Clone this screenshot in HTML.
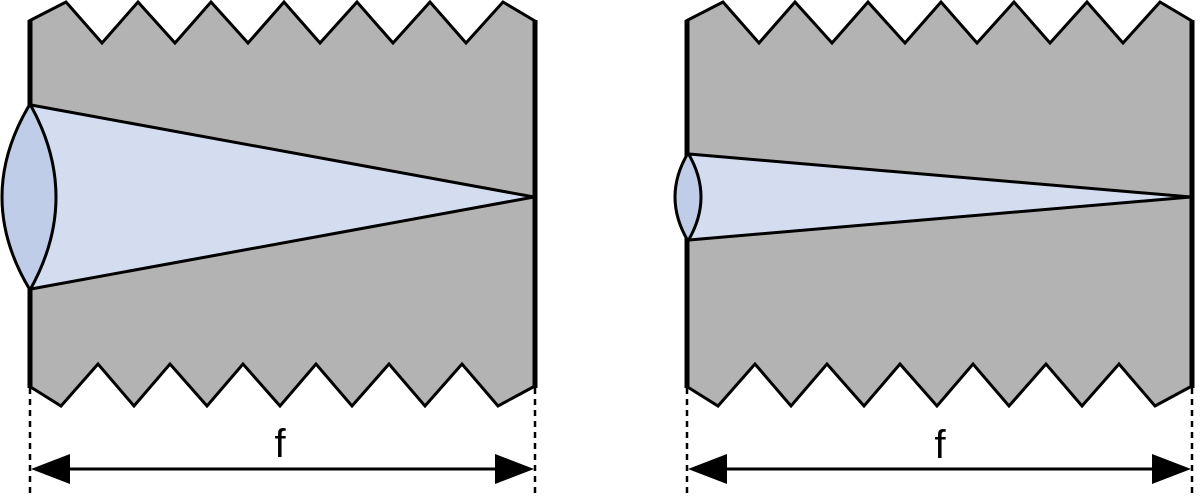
<!DOCTYPE html>
<html><head><meta charset="utf-8"><style>html,body{margin:0;padding:0;background:#fff;}svg{display:block;}</style></head>
<body>
<svg width="1200" height="500" viewBox="0 0 1200 500" xmlns="http://www.w3.org/2000/svg">
<defs>
<g id="body">
  <polygon fill="#b3b3b3" points="29,21 66,2 102,43 138,2 175,43 211,2 248,43 284,2 320,43 357,2 393,43 430,2 466,43 503,2 535,21 535,386 498,406 462,364 425,406 389,364 352,406 316,364 280,406 243,364 207,406 170,364 134,406 98,364 61,406 29,386"/>
  <polyline fill="none" stroke="#000" stroke-width="3" stroke-linejoin="miter" points="29,21 66,2 102,43 138,2 175,43 211,2 248,43 284,2 320,43 357,2 393,43 430,2 466,43 503,2 535,21"/>
  <polyline fill="none" stroke="#000" stroke-width="3" points="535,386 498,406 462,364 425,406 389,364 352,406 316,364 280,406 243,364 207,406 170,364 134,406 98,364 61,406 29,386"/>
  <line x1="30" y1="20" x2="30" y2="388" stroke="#000" stroke-width="5"/>
  <line x1="535" y1="20" x2="535" y2="388" stroke="#000" stroke-width="5"/>
  <line x1="30" y1="388" x2="30" y2="495" stroke="#000" stroke-width="2.5" stroke-dasharray="6,5"/>
  <line x1="535" y1="388" x2="535" y2="495" stroke="#000" stroke-width="2.5" stroke-dasharray="6,5"/>
  <line x1="60" y1="469" x2="505" y2="469" stroke="#000" stroke-width="3"/>
  <polygon points="31,469 70,454 70,484" fill="#000"/>
  <polygon points="534,469 495,454 495,484" fill="#000"/>
</g>
</defs>
<use href="#body"/>
<polygon points="31,105 534,197 31,289" fill="#d4dcf0" stroke="#000" stroke-width="3" stroke-linejoin="round"/>
<path d="M30,104 Q-26,197 30,290 Q82,197 30,104 Z" fill="#bfcde8" stroke="#000" stroke-width="3"/>
<text x="280" y="457" font-family="Liberation Sans, sans-serif" font-size="40" text-anchor="middle">f</text>

<g transform="translate(657,0)"><use href="#body"/></g>
<polygon points="689,154 1191,197 689,240" fill="#d4dcf0" stroke="#000" stroke-width="3" stroke-linejoin="round"/>
<path d="M688,153 Q662,197 688,241 Q714,197 688,153 Z" fill="#bfcde8" stroke="#000" stroke-width="3"/>
<text x="940" y="458" font-family="Liberation Sans, sans-serif" font-size="40" text-anchor="middle">f</text>
</svg>
</body></html>
